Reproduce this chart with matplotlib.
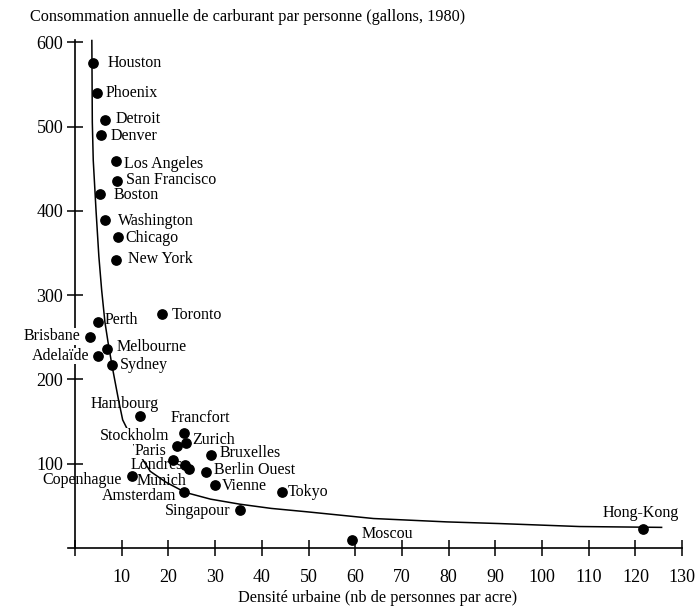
import matplotlib
matplotlib.use("Agg")
import matplotlib.pyplot as plt

# city data: density (persons/acre), fuel use (gallons/person, 1980)
cities = ["Houston", "Phoenix", "Detroit", "Denver", "Los Angeles", "San Francisco",
          "Boston", "Washington", "Chicago", "New York", "Toronto", "Perth",
          "Brisbane", "Melbourne", "Adelaïde", "Sydney", "Hambourg", "Francfort",
          "Stockholm", "Zurich", "Paris", "Bruxelles", "Londres", "Berlin Ouest",
          "Copenhague", "Munich", "Vienne", "Tokyo", "Amsterdam", "Singapour",
          "Moscou", "Hong-Kong"]
density = [3.9, 4.6, 6.4, 5.5, 8.7, 8.9, 5.4, 6.4, 9.1, 8.8, 18.7, 5.0,
           3.2, 6.8, 5.0, 7.9, 13.9, 23.3, 21.9, 23.7, 21.0, 29.1, 23.5, 28.1,
           12.1, 24.5, 30.0, 44.3, 23.3, 35.3, 59.3, 121.6]
fuel = [575, 540, 508, 490, 459, 435, 420, 389, 369, 342, 278, 268,
        250, 236, 228, 217, 157, 137, 121, 125, 105, 110, 99, 90,
        85, 94, 75, 66, 66, 45, 10, 23]

# fitted curve
curve_x = [3.6, 3.7, 3.9, 4.5, 5.1, 5.7, 6.4, 7.1, 7.9, 9.3, 10.2, 11.1, 13.0,
           16.1, 19.5, 23.6, 29, 35.3, 42, 49.6, 63.9, 79.6, 91, 108, 125.6]
curve_y = [602, 505, 460, 400, 346, 306, 268, 243, 217, 176, 152, 142, 118,
           91, 78, 66, 58, 52, 47, 43, 35, 31, 29, 25.5, 24.5]

xticks = list(range(0, 131, 10))
yticks = [100, 200, 300, 400, 500, 600]

# label placement (x, y, horizontal alignment), one per city
label_pos = [(6.9, 575, "left"), (6.6, 540, "left"), (8.6, 509, "left"),
             (7.7, 489, "left"), (10.5, 456, "left"), (10.9, 436, "left"),
             (8.2, 419, "left"), (9.3, 388, "left"), (10.7, 368, "left"),
             (11.4, 343, "left"), (20.7, 277, "left"), (6.3, 271, "left"),
             (1.1, 251, "right"), (8.9, 238, "left"), (3.0, 228, "right"),
             (9.6, 217, "left"), (10.7, 171, "center"), (26.8, 154, "center"),
             (20.1, 133, "right"), (25.0, 128, "left"), (19.5, 115.5, "right"),
             (31.0, 113, "left"), (11.8, 98, "left"), (29.8, 92.5, "left"),
             (10.0, 80.5, "right"), (13.2, 79.5, "left"), (31.5, 74, "left"),
             (45.5, 66, "left"), (21.8, 62, "right"), (33.2, 44.5, "right"),
             (61.4, 17, "left"), (121.2, 42, "center")]
masked = {"Brisbane", "Adelaïde", "Stockholm", "Paris"}

plt.rcParams["font.family"] = ["Liberation Serif", "DejaVu Serif"]

fig = plt.figure(figsize=(6.97, 6.15), dpi=100)
ax = fig.add_axes([0.0976, 0.1089, 0.8878, 0.8307])

ax.plot(curve_x, curve_y, color="black", lw=1.1, zorder=3)
ax.scatter(density, fuel, s=45, color="black", zorder=6)

for name, (lx, ly, ha) in zip(cities, label_pos):
    kw = {}
    if name in masked:
        kw["bbox"] = dict(facecolor="white", edgecolor="none", pad=0.1)
    ax.text(lx, ly, name, ha=ha, va="center", fontsize=11.5, zorder=5, **kw)

ax.set_xlim(-1.5, 131)
ax.set_ylim(0, 606)
for s in ["top", "right"]:
    ax.spines[s].set_visible(False)
ax.spines["left"].set_position(("data", 0))
ax.spines["left"].set_bounds(0, 603)
ax.spines["bottom"].set_bounds(-1.5, 130)
ax.spines["left"].set_linewidth(1.2)
ax.spines["bottom"].set_linewidth(1.2)

ax.set_xticks(xticks)
ax.set_xticklabels([""] + [str(t) for t in xticks[1:]])
ax.set_yticks(yticks)
ax.tick_params(axis="x", direction="inout", length=12, width=1.1, pad=9, labelsize=13)
ax.tick_params(axis="y", direction="inout", length=11, width=1.1, pad=3, labelsize=13)

ax.set_xlabel("Densité urbaine (nb de personnes par acre)", fontsize=11.7, labelpad=3)
fig.text(0.043, 0.972, "Consommation annuelle de carburant par personne (gallons, 1980)",
         fontsize=11.7, va="center", ha="left")

fig.savefig("out.png", dpi=100)
